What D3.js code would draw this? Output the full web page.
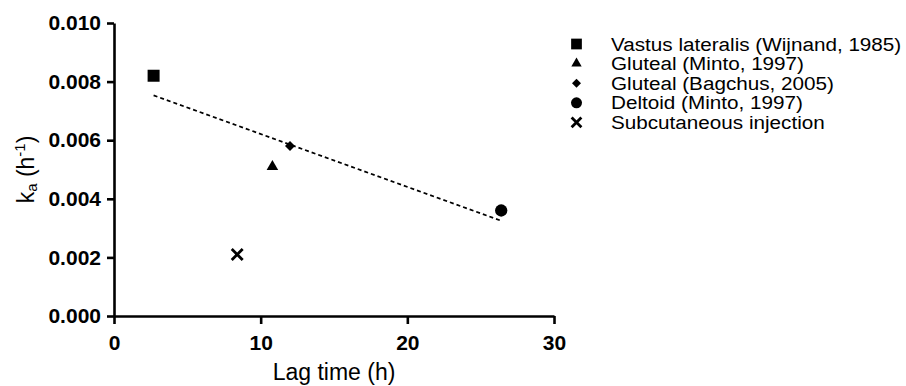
<!DOCTYPE html>
<html>
<head>
<meta charset="utf-8">
<script src="https://cdn.jsdelivr.net/npm/d3@7"></script>
<style>
  body { margin: 0; background: #fff; }
  svg { display: block; font-family: "Liberation Sans", Arial, sans-serif; }
</style>
</head>
<body>
<svg id="chart"></svg>
<script>
// values
const seriesNames = [
    "Vastus lateralis (Wijnand, 1985)",
    "Gluteal (Minto, 1997)",
    "Gluteal (Bagchus, 2005)",
    "Deltoid (Minto, 1997)",
    "Subcutaneous injection"
];
const lagTimes = [2.7, 10.8, 12.0, 26.4, 8.4];
const kaValues = [0.0082, 0.0051, 0.0058, 0.0036, 0.0021];
const symbolKinds = ["square", "triangle", "diamond", "circle", "cross"];
const fitLineX = [2.7, 26.4];
const fitLineY = [0.00753, 0.00325];
const xTicks = [0, 10, 20, 30];
const yTicks = [0, 0.002, 0.004, 0.006, 0.008, 0.010];

const width = 906, height = 386;
const margin = { top: 23, left: 114 };
const plotW = 440, plotH = 293;

const svg = d3.select("#chart")
    .attr("width", width)
    .attr("height", height);

const g = svg.append("g")
    .attr("transform", `translate(${margin.left},${margin.top})`);

const xScale = d3.scaleLinear().domain([0, 30]).range([0, plotW]);
const yScale = d3.scaleLinear().domain([0, 0.010]).range([plotH, 0]);

const xAxis = g.append("g")
    .attr("transform", `translate(0,${plotH})`)
    .call(d3.axisBottom(xScale).tickValues(xTicks).tickSize(8).tickSizeOuter(0).tickPadding(11).tickFormat(d3.format("d")));

const yAxis = g.append("g")
    .call(d3.axisLeft(yScale).tickValues(yTicks).tickSize(7).tickSizeOuter(0).tickPadding(6).tickFormat(d3.format(".3f")));

[xAxis, yAxis].forEach(ax => {
    ax.selectAll("path, line").attr("stroke", "#000").attr("stroke-width", 2.6);
    ax.selectAll("text")
        .attr("fill", "#000")
        .style("font-family", "'Liberation Sans', Arial, sans-serif")
        .style("font-size", "21px")
        .style("font-weight", "bold");
});

// x axis label
svg.append("text")
    .attr("x", margin.left + plotW / 2)
    .attr("y", 380)
    .attr("text-anchor", "middle")
    .style("font-size", "23px")
    .text("Lag time (h)");

// y axis label with sub/superscript
const yLabel = svg.append("text")
    .attr("transform", `translate(34,${margin.top + plotH / 2}) rotate(-90)`)
    .attr("text-anchor", "middle")
    .style("font-size", "23px");
yLabel.append("tspan").text("k");
yLabel.append("tspan").attr("dy", 3).style("font-size", "15px").text("a");
yLabel.append("tspan").attr("dy", -3).text(" (h");
yLabel.append("tspan").attr("dy", -9.5).style("font-size", "15px").text("-1");
yLabel.append("tspan").attr("dy", 9.5).text(")");

// fit line
const fitPoints = fitLineX.map((x, i) => ({ x, y: fitLineY[i] }));
g.append("path")
    .datum(fitPoints)
    .attr("fill", "none")
    .attr("stroke", "#000")
    .attr("stroke-width", 1.8)
    .attr("stroke-dasharray", "4,3")
    .attr("d", d3.line().x(d => xScale(d.x)).y(d => yScale(d.y)));

function symbolPath(kind, scale) {
    if (kind === "square") return d3.symbol(d3.symbolSquare, 144 * scale)();
    if (kind === "triangle") return d3.symbol(d3.symbolTriangle, 58 * scale)();
    if (kind === "diamond") return d3.symbol(d3.symbolSquare, 50 * scale)();
    if (kind === "circle") return d3.symbol(d3.symbolCircle, 119 * scale)();
    return d3.symbol(d3.symbolTimes, 80 * scale)();
}

function drawSymbol(sel, kind, scale) {
    const p = sel.append("path").attr("d", symbolPath(kind, scale));
    if (kind === "cross") {
        p.attr("fill", "none").attr("stroke", "#000").attr("stroke-width", 2.8);
    } else {
        p.attr("fill", "#000");
    }
    if (kind === "diamond") p.attr("transform", "rotate(45)");
}

const points = seriesNames.map((name, i) => ({
    name, x: lagTimes[i], y: kaValues[i], kind: symbolKinds[i]
}));

points.forEach(d => {
    const pg = g.append("g")
        .attr("transform", `translate(${xScale(d.x)},${yScale(d.y)})`);
    drawSymbol(pg, d.kind, 1);
});

// legend
const legend = svg.append("g").attr("transform", "translate(576.5,44)");
points.forEach((d, i) => {
    const row = legend.append("g").attr("transform", `translate(0,${i * 19.6})`);
    drawSymbol(row.append("g"), d.kind, 0.8);
    row.append("g")
        .attr("transform", "translate(34.5,0) scale(1.1,1)")
        .append("text")
        .attr("dy", "0.35em")
        .style("font-size", "18.8px")
        .text(d.name);
});
</script>
</body>
</html>
